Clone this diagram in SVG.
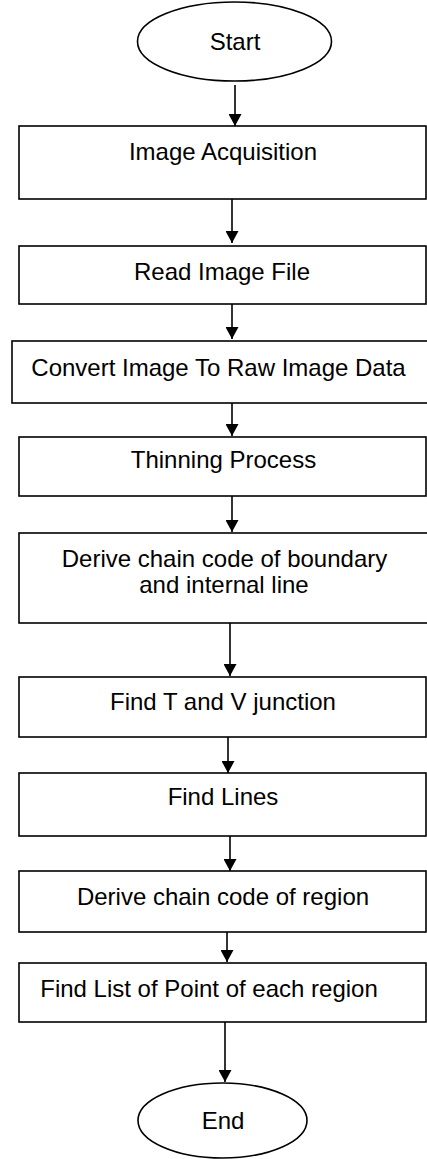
<svg xmlns="http://www.w3.org/2000/svg" width="427" height="1159" viewBox="0 0 427 1159">
<style>
.s{fill:#fff;stroke:#000;stroke-width:1.6}
.t{font-family:"Liberation Sans",Arial,sans-serif;font-size:24px;fill:#000;text-anchor:middle}
.c{stroke:#000;stroke-width:1.6;fill:none}
</style>
<defs>
<marker id="ah" viewBox="0 0 12 13" refX="12" refY="6.5" markerWidth="12" markerHeight="13" markerUnits="userSpaceOnUse" orient="auto">
<path d="M0,0 L12,6.5 L0,13 Z" fill="#000"/>
</marker>
</defs>
<rect width="427" height="1159" fill="#fff"/>
<g id="start"><ellipse class="s" cx="234.5" cy="41.5" rx="97" ry="39.5"/><text class="t" x="235" y="50">Start</text></g>
<g id="n1"><rect class="s" x="19" y="126" width="407" height="73"/><text class="t" x="223" y="160">Image Acquisition</text></g>
<g id="n2"><rect class="s" x="19" y="246" width="407" height="58"/><text class="t" x="222" y="280">Read Image File</text></g>
<g id="n3"><rect class="s" x="12" y="341" width="420" height="62"/><text class="t" x="218.5" y="376">Convert Image To Raw Image Data</text></g>
<g id="n4"><rect class="s" x="19" y="437" width="407" height="59"/><text class="t" x="223.5" y="468">Thinning Process</text></g>
<g id="n5"><rect class="s" x="19" y="533" width="413" height="90"/><text class="t" x="224.5" y="567">Derive chain code of boundary</text><text class="t" x="224" y="593">and internal line</text></g>
<g id="n6"><rect class="s" x="19" y="677" width="407" height="60"/><text class="t" x="223" y="710">Find T and V junction</text></g>
<g id="n7"><rect class="s" x="19" y="773" width="407" height="63"/><text class="t" x="223" y="805">Find Lines</text></g>
<g id="n8"><rect class="s" x="19" y="871" width="407" height="61"/><text class="t" x="223" y="905">Derive chain code of region</text></g>
<g id="n9"><rect class="s" x="19" y="963" width="407" height="59"/><text class="t" x="209" y="997">Find List of Point of each region</text></g>
<g id="end"><ellipse class="s" cx="222.5" cy="1120.5" rx="84.5" ry="37.5"/><text class="t" x="223" y="1129">End</text></g>
<g id="connectors">
<line class="c" x1="235" y1="85" x2="235" y2="126" marker-end="url(#ah)"/>
<line class="c" x1="232" y1="199" x2="232" y2="243" marker-end="url(#ah)"/>
<line class="c" x1="232" y1="304" x2="232" y2="339" marker-end="url(#ah)"/>
<line class="c" x1="232" y1="403" x2="232" y2="436" marker-end="url(#ah)"/>
<line class="c" x1="232" y1="496" x2="232" y2="532" marker-end="url(#ah)"/>
<line class="c" x1="230" y1="623" x2="230" y2="676" marker-end="url(#ah)"/>
<line class="c" x1="228" y1="737" x2="228" y2="773" marker-end="url(#ah)"/>
<line class="c" x1="230" y1="836" x2="230" y2="871" marker-end="url(#ah)"/>
<line class="c" x1="227" y1="932" x2="227" y2="962" marker-end="url(#ah)"/>
<line class="c" x1="225" y1="1022" x2="225" y2="1082" marker-end="url(#ah)"/>
</g>
</svg>
